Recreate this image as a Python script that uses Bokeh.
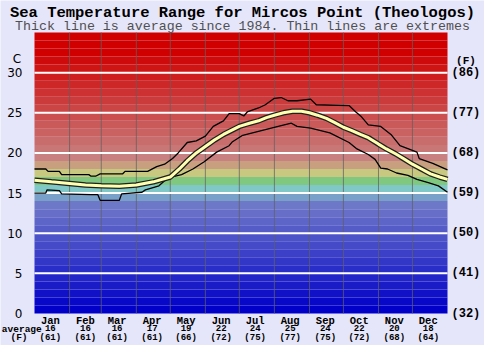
from bokeh.plotting import figure
from bokeh.models import Range1d, LinearAxis, FixedTicker, Label, ColumnDataSource
from bokeh.embed import file_html
from bokeh.resources import INLINE

# ---------------- data ----------------
months = ["Jan", "Feb", "Mar", "Apr", "May", "Jun", "Jul", "Aug", "Sep", "Oct", "Nov", "Dec"]
month_days = [31, 28, 31, 30, 31, 30, 31, 31, 30, 31, 30, 31]
avg_c_labels = [16, 16, 16, 17, 19, 22, 24, 25, 24, 22, 20, 18]
avg_f_labels = [61, 61, 61, 61, 66, 72, 75, 77, 75, 72, 68, 64]
temp_ticks = [0, 5, 10, 15, 20, 25, 30]

avg_day = [0, 15, 31, 45, 59, 75, 90, 105, 120, 128, 135, 143, 151, 159, 167, 174, 181, 190,
           198, 205, 212, 220, 228, 236, 243, 250, 258, 265, 273, 280, 288, 295, 304, 311,
           319, 326, 334, 342, 350, 358, 365]
avg_temp = [16.6, 16.4, 16.2, 16.0, 15.9, 15.85, 16.0, 16.4, 17.0, 18.0, 19.0, 20.0, 20.8, 21.6,
            22.3, 22.8, 23.3, 23.7, 24.0, 24.4, 24.7, 25.0, 25.2, 25.2, 25.0, 24.7, 24.3, 23.8,
            23.2, 22.8, 22.3, 21.9, 21.1, 20.5, 19.9, 19.3, 18.6, 18.0, 17.4, 17.0, 16.7]

max_day = [0, 10, 12, 22, 24, 48, 50, 54, 58, 78, 80, 100, 108, 115, 122, 127, 135, 143, 151,
           158, 167, 172, 181, 185, 188, 198, 204, 212, 218, 224, 232, 244, 249, 278, 284, 289,
           295, 306, 315, 323, 338, 340, 352, 365]
max_temp = [18.0, 18.0, 17.7, 17.7, 17.3, 17.3, 17.1, 17.1, 17.4, 17.4, 17.7, 17.7, 18.3, 18.6,
            19.3, 20.0, 21.3, 21.5, 22.1, 23.3, 24.0, 24.9, 24.9, 24.6, 25.1, 25.6, 26.0, 26.8,
            26.9, 26.5, 26.5, 26.7, 26.0, 25.9, 25.1, 24.5, 23.5, 23.3, 22.3, 20.9, 20.1, 19.3,
            18.7, 17.9]

min_day = [0, 10, 11, 22, 24, 50, 56, 58, 75, 77, 95, 98, 110, 118, 130, 140, 150, 161, 172,
           175, 184, 204, 218, 227, 232, 244, 261, 278, 285, 295, 301, 306, 312, 320, 330, 338,
           348, 357, 365]
min_temp = [15.0, 15.0, 15.4, 15.3, 14.9, 14.8, 14.8, 14.1, 14.1, 14.9, 15.1, 15.4, 15.9, 16.9,
            17.3, 18.0, 18.9, 20.1, 20.9, 21.4, 22.2, 22.9, 23.4, 23.7, 23.3, 23.1, 22.5, 21.3,
            20.5, 19.8, 19.2, 18.1, 18.0, 17.5, 17.2, 16.7, 16.3, 15.9, 15.1]

# ---------------- styling helpers ----------------
MONO = "Liberation Mono"
SANS = "DejaVu Sans"
BG = "#e6e6fa"


def band_color(i):
    special = {14: "#78a0c8", 15: "#80c8c8", 16: "#80c880", 17: "#c8c880", 18: "#c8a080"}
    if i in special:
        return special[i]
    if i < 14:
        r = round(i * 8.5)
        g = round(i * 9.2)
        return "#%02x%02x%02x" % (r, g, 200)
    if i >= 32:
        return "#d00000"
    t = (32 - i) / 13.0
    r = round(208 - 8 * t)
    gb = round(128 * t)
    return "#%02x%02x%02x" % (r, gb, gb)


starts = [0]
for d in month_days[:-1]:
    starts.append(starts[-1] + d)
mids = [s + 14 for s in starts]

# ---------------- layout (pixels) ----------------
W, H = 484, 345
CL, CR, CT, CB = 34, 447, 32, 313          # chart area inside the canvas
DAYS, TMAX = 365, 35
xpx = (CR - CL) / DAYS
ypx = (CB - CT) / TMAX
x_range = Range1d(-CL / xpx, DAYS + (W - CR) / xpx)
y_range = Range1d(-(H - CB) / ypx, TMAX + CT / ypx)

p = figure(width=W, height=H, x_range=x_range, y_range=y_range,
           output_backend="svg", toolbar_location=None, min_border=0)
p.border_fill_color = BG
p.background_fill_color = BG
p.outline_line_color = None
p.grid.visible = False

# background bands (1 degree each)
band_bottom = list(range(0, TMAX))
band_src = ColumnDataSource(dict(bottom=band_bottom,
                                 top=[b + 1 for b in band_bottom],
                                 color=[band_color(b) for b in band_bottom]))
p.quad(left=0, right=DAYS, bottom="bottom", top="top", color="color",
       line_color=None, source=band_src)

# grid lines
p.segment(x0=starts[1:], y0=0, x1=starts[1:], y1=TMAX, line_color="#606060",
          line_alpha=0.75, line_width=1)
p.segment(x0=0, y0=temp_ticks[1:], x1=DAYS, y1=temp_ticks[1:], line_color="white",
          line_width=2)

# lines
p.line(max_day, max_temp, line_color="black", line_width=1.3)
p.line(min_day, min_temp, line_color="black", line_width=1.3)
p.line(avg_day, avg_temp, line_color="#202020", line_width=5.5)
p.line(avg_day, avg_temp, line_color="#ffffb0", line_width=3)


def plain(ax, standoff, font, size, bold):
    ax.axis_line_color = None
    ax.major_tick_line_color = None
    ax.minor_tick_line_color = None
    ax.major_tick_out = 0
    ax.major_tick_in = 0
    ax.major_label_standoff = standoff
    ax.major_label_text_font = font
    ax.major_label_text_font_size = size
    ax.major_label_text_font_style = "bold" if bold else "normal"
    ax.major_label_text_color = "black"


# left axis (Celsius)
la = p.yaxis[0]
la.ticker = FixedTicker(ticks=temp_ticks)
la.fixed_location = 0
plain(la, 12, SANS, "12px", False)

# right axis (Fahrenheit)
ra = LinearAxis(ticker=FixedTicker(ticks=temp_ticks), fixed_location=DAYS,
                major_label_overrides={c: "(%d)" % round(32 + c * 9 / 5) for c in temp_ticks})
plain(ra, 4, MONO, "12px", True)
p.add_layout(ra, "right")

# bottom rows: month names, average C, average F
ba = p.xaxis[0]
ba.ticker = FixedTicker(ticks=mids)
ba.major_label_overrides = {m: n for m, n in zip(mids, months)}
ba.fixed_location = 0
plain(ba, 1, MONO, "10.5px", True)

ax_c = LinearAxis(ticker=FixedTicker(ticks=mids), fixed_location=0,
                  major_label_overrides={m: str(v) for m, v in zip(mids, avg_c_labels)})
plain(ax_c, 11, MONO, "9px", True)
p.add_layout(ax_c, "below")

ax_f = LinearAxis(ticker=FixedTicker(ticks=mids), fixed_location=0,
                  major_label_overrides={m: "(%d)" % v for m, v in zip(mids, avg_f_labels)})
plain(ax_f, 19, MONO, "9px", True)
p.add_layout(ax_f, "below")


def scr_label(x, y_from_top, text, font, size, bold=False, color="black"):
    p.add_layout(Label(x=x, y=H - y_from_top, x_units="screen", y_units="screen", text=text,
                       text_font=font, text_font_size=size,
                       text_font_style="bold" if bold else "normal",
                       text_align="center", text_baseline="middle", text_color=color))


scr_label(242, 12.5, "Sea Temperature Range for Mircos Point (Theologos)", MONO, "15.5px", True)
scr_label(242, 26, "Thick line is average since 1984. Thin lines are extremes", MONO,
          "13.3px", False, "#505050")
scr_label(16.5, 58.3, "C", SANS, "12px")
scr_label(465.5, 60.2, "(F)", MONO, "11px", True)
scr_label(21.3, 328.5, "average", MONO, "9.5px", True)
scr_label(18.5, 337, "(F)", MONO, "9.5px", True)

open("out.html", "w").write(file_html(p, INLINE))
